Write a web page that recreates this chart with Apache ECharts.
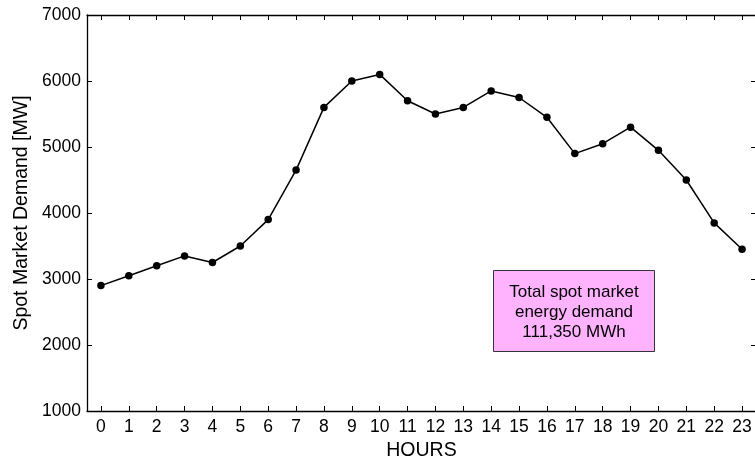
<!DOCTYPE html>
<html>
<head>
<meta charset="utf-8">
<script src="https://cdn.jsdelivr.net/npm/echarts@6/dist/echarts.min.js"></script>
<style>
  html, body { margin: 0; padding: 0; background: #fff; }
  #chart { width: 755px; height: 459px; }
</style>
</head>
<body>
<div id="chart"></div>
<script>
// Hourly spot market demand over one day
const hours = ['0','1','2','3','4','5','6','7','8','9','10','11','12','13','14','15','16','17','18','19','20','21','22','23'];
const demandMW = [2900, 3050, 3200, 3350, 3250, 3500, 3900, 4650, 5600, 6000, 6100, 5700,
                  5500, 5600, 5850, 5750, 5450, 4900, 5050, 5300, 4950, 4500, 3850, 3450];
const yTicks = { min: 1000, max: 7000, step: 1000 };
const noteLines = ['Total spot market', 'energy demand', '111,350 MWh'];

const FONT = '"Liberation Sans", Arial, sans-serif';
const axisLine = { show: true, lineStyle: { color: '#000', width: 1.3 } };
const innerTicks = { show: true, inside: true, length: 5, lineStyle: { color: '#000', width: 1 } };

const chart = echarts.init(document.getElementById('chart'), null, { renderer: 'canvas' });
chart.setOption({
  animation: false,
  backgroundColor: '#fff',
  grid: { left: 87, right: -1, top: 15, bottom: 48, containLabel: false, outerBoundsMode: 'none' },
  xAxis: [
    {
      type: 'category', data: hours, position: 'bottom',
      boundaryGap: true,
      axisLine: axisLine,
      axisTick: Object.assign({ alignWithLabel: true, interval: 0 }, innerTicks),
      axisLabel: { interval: 0, color: '#000', fontSize: 17.5, fontFamily: FONT, margin: 7 },
      name: 'HOURS', nameLocation: 'middle', nameGap: 29,
      nameTextStyle: { color: '#000', fontSize: 19.5, fontFamily: FONT },
      splitLine: { show: false }
    },
    {
      type: 'category', data: hours, position: 'top',
      boundaryGap: true,
      axisLine: axisLine,
      axisTick: Object.assign({ alignWithLabel: true, interval: 0 }, innerTicks),
      axisLabel: { show: false },
      splitLine: { show: false }
    }
  ],
  yAxis: [
    {
      type: 'value', position: 'left',
      min: yTicks.min, max: yTicks.max, interval: yTicks.step,
      axisLine: axisLine,
      axisTick: innerTicks,
      axisLabel: { color: '#000', fontSize: 17.5, fontFamily: FONT, margin: 6,
                   formatter: v => String(v) },
      name: 'Spot Market Demand [MW]', nameLocation: 'middle', nameGap: 55,
      nameTextStyle: { color: '#000', fontSize: 19.5, fontFamily: FONT },
      splitLine: { show: false }
    },
    {
      type: 'value', position: 'right',
      min: yTicks.min, max: yTicks.max, interval: yTicks.step,
      axisLine: axisLine,
      axisTick: innerTicks,
      axisLabel: { show: false },
      splitLine: { show: false }
    }
  ],
  series: [
    {
      type: 'line',
      data: demandMW,
      xAxisIndex: 0, yAxisIndex: 0,
      symbol: 'circle', symbolSize: 7.5,
      showAllSymbol: true,
      lineStyle: { color: '#000', width: 1.5 },
      itemStyle: { color: '#000' }
    }
  ],
  graphic: [
    {
      type: 'group', left: 493, top: 270,
      children: [
        {
          type: 'rect',
          shape: { x: 0, y: 0, width: 161, height: 81 },
          style: { fill: '#ffb3ff', stroke: '#333', lineWidth: 1 }
        },
        {
          type: 'text',
          x: 80.5, y: 42,
          style: {
            text: noteLines.join('\n'),
            fill: '#000', font: '17px ' + FONT,
            align: 'center', verticalAlign: 'middle', lineHeight: 20
          }
        }
      ]
    }
  ]
});
</script>
</body>
</html>
